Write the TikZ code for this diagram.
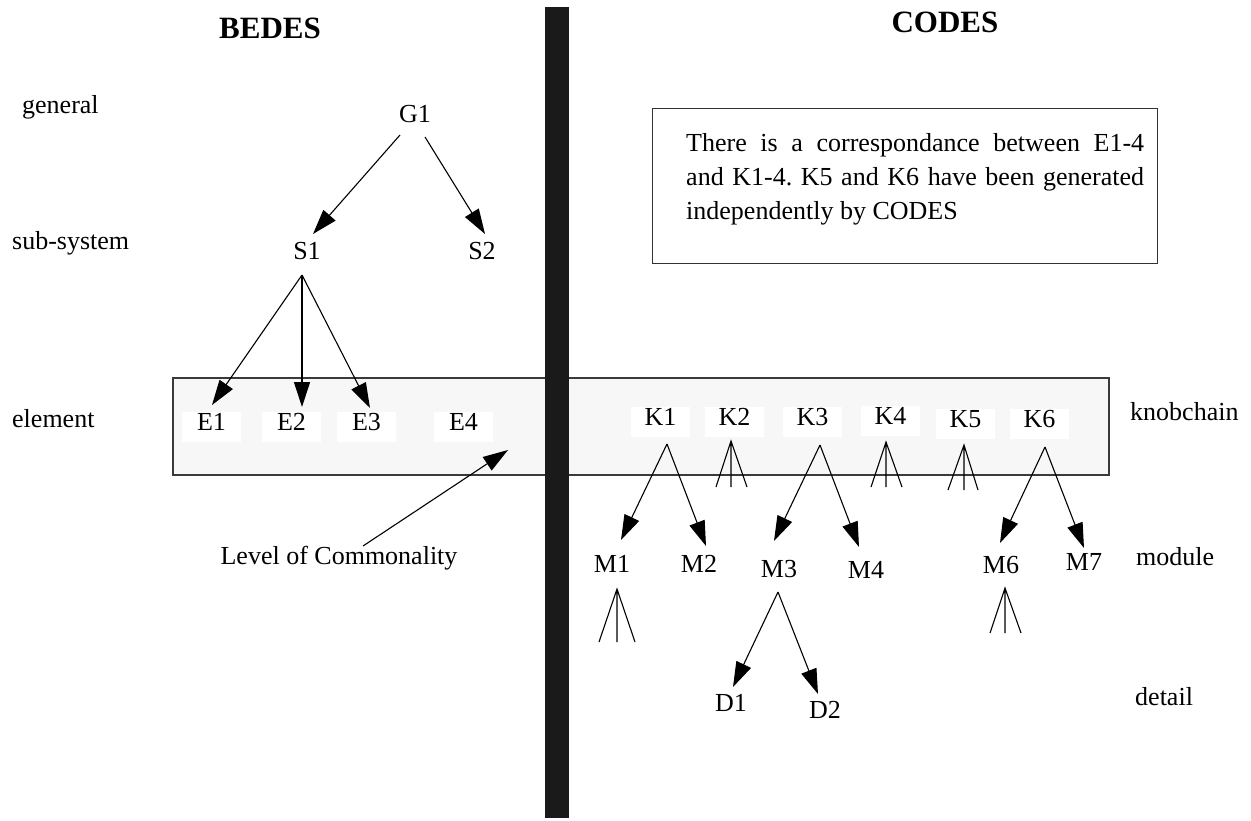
\documentclass[tikz,border=0pt]{standalone}
\usepackage{fontspec}
\setmainfont{Liberation Serif}
\usetikzlibrary{arrows.meta}
\definecolor{bandgray}{HTML}{F7F7F7}
\definecolor{bandline}{HTML}{3A3A3A}
\definecolor{barblack}{HTML}{1A1A1A}
\definecolor{noteline}{HTML}{333333}
\frenchspacing
\begin{document}
\begin{tikzpicture}[x=1pt,y=-1pt,
  lbl/.style={font=\fontsize{26}{31}\selectfont, inner sep=0pt, anchor=base},
  lblw/.style={lbl, anchor=base west},
  hd/.style={font=\fontsize{31}{36}\selectfont\bfseries, inner sep=0pt, anchor=base},
  wbox/.style={lbl, fill=white, minimum width=59pt, text height=18pt, text depth=12pt},
  conn/.style={line width=1.1pt, black},
  arr/.style={conn, -{Triangle[length=25pt,width=16pt]}},
]
\useasboundingbox (0,0) rectangle (1251,820);

% band and bar
\node[draw=bandline, line width=1.5pt, fill=bandgray, anchor=north west,
      minimum width=936pt, minimum height=97pt, inner sep=0pt] (band) at (172,377) {};
\node[fill=barblack, anchor=north west, minimum width=24pt, minimum height=811pt, inner sep=0pt] (bar) at (545,7) {};

% note box
\node[draw=noteline, line width=1.2pt, anchor=north west, minimum width=505pt, minimum height=155pt, inner sep=0pt] (note) at (652,108) {};
\node[lblw] (nl1) at (686,151) {\makebox[458pt][s]{There is a correspondance between E1-4}};
\node[lblw] (nl2) at (686,185) {\makebox[458pt][s]{and K1-4. K5 and K6 have been generated}};
\node[lblw] (nl3) at (686,219) {independently by CODES};

% headers
\node[hd] (bedes) at (270,38) {BEDES};
\node[hd] (codes) at (945,32) {CODES};

% level labels
\node[lblw] (lgen) at (22,113) {general};
\node[lblw] (lsub) at (12,249) {sub-system};
\node[lblw] (lele) at (12,427) {element};
\node[lblw] (lknob) at (1130,420) {knobchain};
\node[lblw] (lmod) at (1136,565) {module};
\node[lblw] (ldet) at (1135,705) {detail};

% BEDES tree
\node[lbl] (G1) at (415,122) {G1};
\node[lbl] (S1) at (307,259) {S1};
\node[lbl] (S2) at (482,259) {S2};
\node[wbox] (E1) at (211.5,430) {E1};
\node[wbox] (E2) at (291.5,430) {E2};
\node[wbox] (E3) at (366.5,430) {E3};
\node[wbox] (E4) at (463.5,430) {E4};
\node[lbl] (loc) at (339,564) {Level of Commonality};

% CODES tree
\node[wbox] (K1) at (660.5,425) {K1};
\node[wbox] (K2) at (734.5,425) {K2};
\node[wbox] (K3) at (812.5,425) {K3};
\node[wbox] (K4) at (890.5,424) {K4};
\node[wbox] (K5) at (965.5,427) {K5};
\node[wbox] (K6) at (1039.5,427) {K6};
\node[lbl] (M1) at (612,572) {M1};
\node[lbl] (M2) at (699,572) {M2};
\node[lbl] (M3) at (779,577) {M3};
\node[lbl] (M4) at (866,578) {M4};
\node[lbl] (M6) at (1001,573) {M6};
\node[lbl] (M7) at (1084,570) {M7};
\node[lbl] (D1) at (731,711) {D1};
\node[lbl] (D2) at (825,718) {D2};

% connector end points
\coordinate (G1l) at (400,135);
\coordinate (G1r) at (425,137);
\coordinate (S1t) at (313,234);
\coordinate (S2t) at (485,234);
\coordinate (S1a) at (302,275);
\coordinate (E1t) at (212,405);
\coordinate (E2t) at (302,407);
\coordinate (E3t) at (370,408);
\coordinate (locs) at (363,546);
\coordinate (loct) at (508,450);
\coordinate (K1a) at (667,444);
\coordinate (M1t) at (621,540);
\coordinate (M2t) at (706,546);
\coordinate (K2a) at (731,441);
\coordinate (K2l) at (716,487);
\coordinate (K2m) at (731,487);
\coordinate (K2r) at (747,487);
\coordinate (K3a) at (820,445);
\coordinate (M3t) at (774,541);
\coordinate (M4t) at (859,547);
\coordinate (K4a) at (886,442);
\coordinate (K4l) at (871,487);
\coordinate (K4m) at (886,487);
\coordinate (K4r) at (902,487);
\coordinate (K5a) at (964,445);
\coordinate (K5l) at (948,490);
\coordinate (K5m) at (964,490);
\coordinate (K5r) at (978,490);
\coordinate (K6a) at (1045,447);
\coordinate (M6t) at (1000,543);
\coordinate (M7t) at (1084,548);
\coordinate (M1a) at (617,589);
\coordinate (M1l) at (599,642);
\coordinate (M1m) at (617,642);
\coordinate (M1r) at (635,642);
\coordinate (M3a) at (778,592);
\coordinate (D1t) at (733,687);
\coordinate (D2t) at (818,694);
\coordinate (M6a) at (1005,588);
\coordinate (M6l) at (990,633);
\coordinate (M6m) at (1005,633);
\coordinate (M6r) at (1021,633);

% connectors
\draw[arr] (G1l) -- (S1t);
\draw[arr] (G1r) -- (S2t);
\draw[arr] (S1a) -- (E1t);
\draw[arr] (S1a) -- (E2t);
\draw[arr] (S1a) -- (E3t);
\draw[arr] (locs) -- (loct);
\draw[arr] (K1a) -- (M1t);
\draw[arr] (K1a) -- (M2t);
\draw[arr] (K3a) -- (M3t);
\draw[arr] (K3a) -- (M4t);
\draw[arr] (K6a) -- (M6t);
\draw[arr] (K6a) -- (M7t);
\draw[arr] (M3a) -- (D1t);
\draw[arr] (M3a) -- (D2t);
\draw[conn] (K2l) -- (K2a) -- (K2r) (K2a) -- (K2m);
\draw[conn] (K4l) -- (K4a) -- (K4r) (K4a) -- (K4m);
\draw[conn] (K5l) -- (K5a) -- (K5r) (K5a) -- (K5m);
\draw[conn] (M1l) -- (M1a) -- (M1r) (M1a) -- (M1m);
\draw[conn] (M6l) -- (M6a) -- (M6r) (M6a) -- (M6m);
\end{tikzpicture}
\end{document}
